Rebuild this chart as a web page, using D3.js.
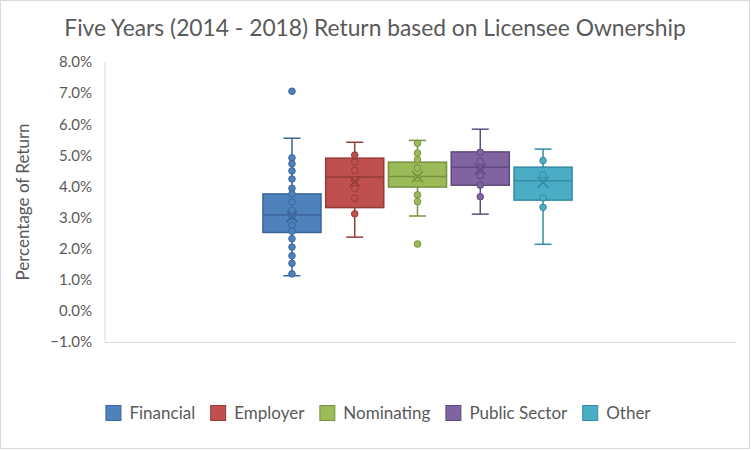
<!DOCTYPE html>
<html>
<head>
<meta charset="utf-8">
<script src="https://cdn.jsdelivr.net/npm/d3@7"></script>
<style>
  body { margin: 0; background: #fff; }
  text { font-family: Lato, 'Open Sans', sans-serif; fill: #595959; }
</style>
</head>
<body>
<div id="chart"></div>
<script>
// values (percent)
const categories = ['Financial', 'Employer', 'Nominating', 'Public Sector', 'Other'];
const colors = ['#4F81BD', '#C0504D', '#9BBB59', '#8064A2', '#4BACC6'];
const strokes = ['#3A659A', '#953B39', '#77913F', '#60497D', '#358BA2'];

const whiskerLow = [1.13, 2.37, 3.05, 3.11, 2.14];
const q1 = [2.52, 3.32, 3.98, 4.04, 3.56];
const median = [3.08, 4.30, 4.32, 4.62, 4.18];
const q3 = [3.76, 4.91, 4.78, 5.11, 4.62];
const whiskerHigh = [5.55, 5.42, 5.48, 5.84, 5.20];
const means = [3.03, 4.16, 4.31, 4.56, 4.13];

const innerPoints = [
  [4.92, 4.73, 4.50, 4.24, 3.94, 3.76, 3.50, 3.23, 3.04, 2.75, 2.56, 2.32, 2.05, 1.77, 1.53, 1.19],
  [5.01, 4.78, 4.51, 4.21, 3.93, 3.62, 3.12],
  [5.39, 5.07, 4.86, 4.59, 4.27, 3.73, 3.51],
  [5.10, 4.81, 4.59, 4.34, 4.04, 3.67],
  [4.83, 4.37, 3.63, 3.33]
];
const outliers = [[7.06], [], [2.15], [], []];

const yTicks = [-1, 0, 1, 2, 3, 4, 5, 6, 7, 8];

const width = 751;
const height = 450;
const plot = { left: 105, right: 736, top: 62, bottom: 342 };

const svg = d3.select('#chart')
  .append('svg')
  .attr('width', width)
  .attr('height', height);

// chart border
svg.append('rect')
  .attr('x', 0.5).attr('y', 0.5)
  .attr('width', width - 2).attr('height', height - 2)
  .style('fill', '#fff')
  .style('stroke', '#d9d9d9');

// title
svg.append('text')
  .attr('x', 375)
  .attr('y', 36)
  .attr('text-anchor', 'middle')
  .style('font-size', '22.8px')
  .text('Five Years (2014 - 2018) Return based on Licensee Ownership');

const y = d3.scaleLinear()
  .domain([-1, 8])
  .range([plot.bottom, plot.top]);

// single category, five series clustered inside it
const xGroup = d3.scaleBand()
  .domain(['all'])
  .range([plot.left, 730])
  .paddingOuter(0.481);

const xSeries = d3.scaleBand()
  .domain(categories)
  .range([xGroup('all'), xGroup('all') + xGroup.bandwidth()])
  .padding(0.075);

// y axis labels
const yAxis = d3.axisLeft(y)
  .tickValues(yTicks)
  .tickSize(0)
  .tickPadding(0)
  .tickFormat(d => d3.format('.1f')(d) + '%');

const yAxisG = svg.append('g')
  .attr('transform', 'translate(92,0)')
  .call(yAxis);
yAxisG.select('.domain').remove();
yAxisG.selectAll('text')
  .style('font-family', "Lato, 'Open Sans', sans-serif")
  .style('font-size', '15px')
  .style('fill', '#595959');

// plot frame lines
svg.append('line')
  .attr('x1', plot.left).attr('x2', plot.left)
  .attr('y1', plot.top).attr('y2', plot.bottom)
  .style('stroke', '#d9d9d9');
svg.append('line')
  .attr('x1', plot.left).attr('x2', plot.right)
  .attr('y1', plot.bottom + 0.5).attr('y2', plot.bottom + 0.5)
  .style('stroke', '#d9d9d9');

// axis title
svg.append('text')
  .attr('transform', `translate(29, ${(plot.top + plot.bottom) / 2}) rotate(-90)`)
  .attr('text-anchor', 'middle')
  .style('font-size', '17px')
  .text('Percentage of Return');

const bw = xSeries.bandwidth();
const capW = 17;

categories.forEach((cat, i) => {
  const g = svg.append('g');
  const cx = xSeries(cat) + bw / 2;

  // whiskers
  g.append('line')
    .attr('x1', cx).attr('x2', cx)
    .attr('y1', y(whiskerHigh[i])).attr('y2', y(q3[i]))
    .style('stroke', strokes[i]).style('stroke-width', 1.5);
  g.append('line')
    .attr('x1', cx).attr('x2', cx)
    .attr('y1', y(q1[i])).attr('y2', y(whiskerLow[i]))
    .style('stroke', strokes[i]).style('stroke-width', 1.5);
  [whiskerHigh[i], whiskerLow[i]].forEach(v => {
    g.append('line')
      .attr('x1', cx - capW / 2).attr('x2', cx + capW / 2)
      .attr('y1', y(v)).attr('y2', y(v))
      .style('stroke', strokes[i]).style('stroke-width', 1.5);
  });

  // box
  g.append('rect')
    .attr('x', xSeries(cat))
    .attr('y', y(q3[i]))
    .attr('width', bw)
    .attr('height', y(q1[i]) - y(q3[i]))
    .style('fill', colors[i])
    .style('stroke', strokes[i])
    .style('stroke-width', 1.5);

  g.append('line')
    .attr('x1', xSeries(cat)).attr('x2', xSeries(cat) + bw)
    .attr('y1', y(median[i])).attr('y2', y(median[i]))
    .style('stroke', strokes[i]).style('stroke-width', 1.5);

  // points
  g.selectAll('circle.pt')
    .data(innerPoints[i].concat(outliers[i]))
    .enter()
    .append('circle')
    .attr('class', 'pt')
    .attr('cx', cx)
    .attr('cy', d => y(d))
    .attr('r', 3.3)
    .style('fill', colors[i])
    .style('stroke', strokes[i])
    .style('stroke-width', 1);

  // mean marker
  const m = 5.5;
  const my = y(means[i]);
  g.append('path')
    .attr('d', `M${cx - m},${my - m}L${cx + m},${my + m}M${cx - m},${my + m}L${cx + m},${my - m}`)
    .style('stroke', strokes[i])
    .style('stroke-width', 1.5)
    .style('fill', 'none');
});

// legend
const legend = svg.append('g');
let lx = 0;
categories.forEach((cat, i) => {
  const item = legend.append('g').attr('transform', `translate(${lx},0)`);
  item.append('rect')
    .attr('x', 0.5).attr('y', -7.5)
    .attr('width', 15).attr('height', 15)
    .style('fill', colors[i])
    .style('stroke', strokes[i]);
  const t = item.append('text')
    .attr('x', 24)
    .attr('y', 6)
    .style('font-size', '17px')
    .text(cat);
  lx += 24 + t.node().getComputedTextLength() + 15;
});
const legendW = lx - 15;
legend.attr('transform', `translate(${378 - legendW / 2}, 413)`);
</script>
</body>
</html>
